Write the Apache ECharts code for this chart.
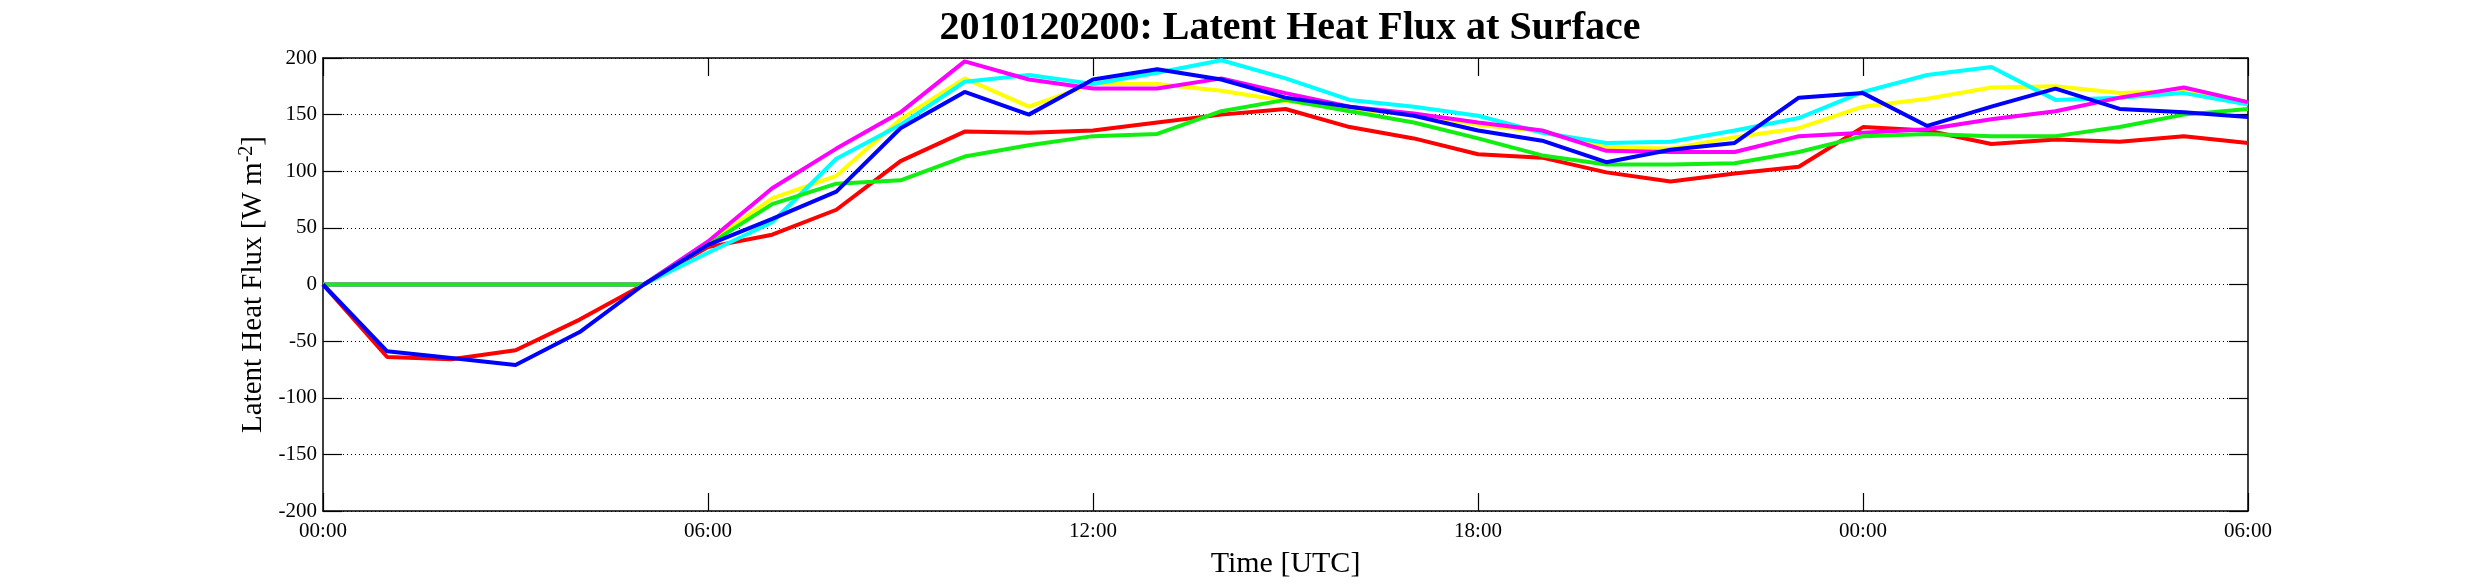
<!DOCTYPE html>
<html style="height: 100%">
   <head>
       <meta charset="utf-8">
       <title>Latent Heat Flux at Surface</title>
       <script src="https://cdn.jsdelivr.net/npm/echarts@6/dist/echarts.min.js"></script>
   </head>
   <body style="height: 100%; margin: 0; background: #fff">
       <div id="container" style="width: 2485px; height: 584px"></div>
       <script type="text/javascript">

// hourly values, 00 UTC day 1 to 06 UTC day 2
const hours = [0,1,2,3,4,5,6,7,8,9,10,11,12,13,14,15,16,17,18,19,20,21,22,23,24,25,26,27,28,29,30];
const tickLabels = ['00:00', '06:00', '12:00', '18:00', '00:00', '06:00'];

const red     = [0, -64, -66, -58, -31, 0, 33, 44, 66, 109, 135, 134, 136, 143, 150, 155, 139, 129, 115, 112, 99, 91, 98, 104, 139, 136, 124, 128, 126, 131, 125];
const yellow  = [0, 0, 0, 0, 0, 0, 36, 76, 96, 146, 182, 157, 177, 177, 171, 162, 155, 150, 141, 135, 121, 120, 130, 138, 157, 164, 174, 175, 169, 171, 160];
const cyan    = [0, 0, 0, 0, 0, 0, 28, 55, 111, 141, 179, 185, 177, 187, 198, 182, 163, 157, 149, 134, 125, 126, 136, 147, 170, 185, 192, 163, 165, 169, 159];
const magenta = [0, 0, 0, 0, 0, 0, 38, 85, 120, 152, 197, 181, 173, 173, 182, 169, 157, 151, 143, 136, 118, 117, 117, 131, 134, 137, 146, 153, 165, 174, 161];
const green   = [0, 0, 0, 0, 0, 0, 35, 71, 89, 92, 113, 123, 131, 133, 153, 163, 153, 143, 129, 114, 106, 106, 107, 117, 131, 133, 131, 131, 139, 150, 155];
const blue    = [0, -59, -65, -71, -42, 0, 35, 58, 82, 138, 170, 150, 181, 190, 181, 165, 157, 149, 136, 127, 108, 119, 125, 165, 169, 140, 157, 173, 155, 152, 148];

const serif = '"Liberation Serif", "Times New Roman", serif';

function pairs(vals) {
    return hours.map(function (h, i) { return [h, vals[i]]; });
}

function lineSeries(name, vals, color) {
    return {
        name: name,
        type: 'line',
        data: pairs(vals),
        showSymbol: false,
        symbol: 'none',
        lineStyle: { color: color, width: 4 },
        itemStyle: { color: color },
        animation: false
    };
}

let dom = document.getElementById('container');
let chart = echarts.init(dom, null, { renderer: 'canvas' });

chart.setOption({
    backgroundColor: '#fff',
    title: {
        text: '2010120200: Latent Heat Flux at Surface',
        left: 1285,
        top: 4,
        textAlign: 'center',
        textStyle: { fontFamily: serif, fontWeight: 'bold', fontSize: 40, color: '#000' }
    },
    grid: { left: 323, right: 237, top: 58, bottom: 68 },
    xAxis: [
        {
            type: 'value',
            min: 0,
            max: 30,
            interval: 6,
            name: 'Time [UTC]',
            nameLocation: 'middle',
            nameGap: 38,
            nameTextStyle: { fontFamily: serif, fontSize: 30, color: '#000' },
            axisLine: { onZero: false, lineStyle: { color: '#000', width: 1.5 } },
            axisTick: { inside: true, length: 18, lineStyle: { color: '#000', width: 1.2 } },
            axisLabel: {
                margin: 10,
                fontFamily: serif, fontSize: 21, color: '#000',
                formatter: function (v) { return tickLabels[v / 6]; }
            },
            splitLine: { show: false }
        },
        {
            type: 'value',
            position: 'top',
            min: 0,
            max: 30,
            interval: 6,
            axisLine: { onZero: false, lineStyle: { color: '#000', width: 1.5 } },
            axisTick: { inside: true, length: 18, lineStyle: { color: '#000', width: 1.2 } },
            axisLabel: { show: false },
            splitLine: { show: false }
        }
    ],
    yAxis: [
        {
            type: 'value',
            min: -200,
            max: 200,
            interval: 50,
            name: '{a|Latent Heat Flux [W m}{s|-2}{a|]}',
            nameLocation: 'middle',
            nameGap: 52,
            nameTextStyle: {
                rich: {
                    a: { fontFamily: serif, fontSize: 29, color: '#000' },
                    s: { fontFamily: serif, fontSize: 20, color: '#000', verticalAlign: 'top', padding: [0, 0, 12, 0] }
                }
            },
            axisLine: { onZero: false, lineStyle: { color: '#000', width: 1.5 } },
            axisTick: { inside: true, length: 19, lineStyle: { color: '#000', width: 1.2 } },
            axisLabel: { margin: 6, fontFamily: serif, fontSize: 21, color: '#000' },
            splitLine: { show: true, lineStyle: { color: '#000', width: 1, type: [1, 3] } }
        },
        {
            type: 'value',
            position: 'right',
            min: -200,
            max: 200,
            interval: 50,
            axisLine: { onZero: false, lineStyle: { color: '#000', width: 1.5 } },
            axisTick: { inside: true, length: 19, lineStyle: { color: '#000', width: 1.2 } },
            axisLabel: { show: false },
            splitLine: { show: false }
        }
    ],
    series: [
        lineSeries('red', red, '#ff0000'),
        lineSeries('yellow', yellow, '#ffff00'),
        lineSeries('cyan', cyan, '#00ffff'),
        lineSeries('magenta', magenta, '#ff00ff'),
        lineSeries('green', green, '#11ee11'),
        lineSeries('blue', blue, '#0000ff')
    ]
});

       </script>
   </body>
</html>
